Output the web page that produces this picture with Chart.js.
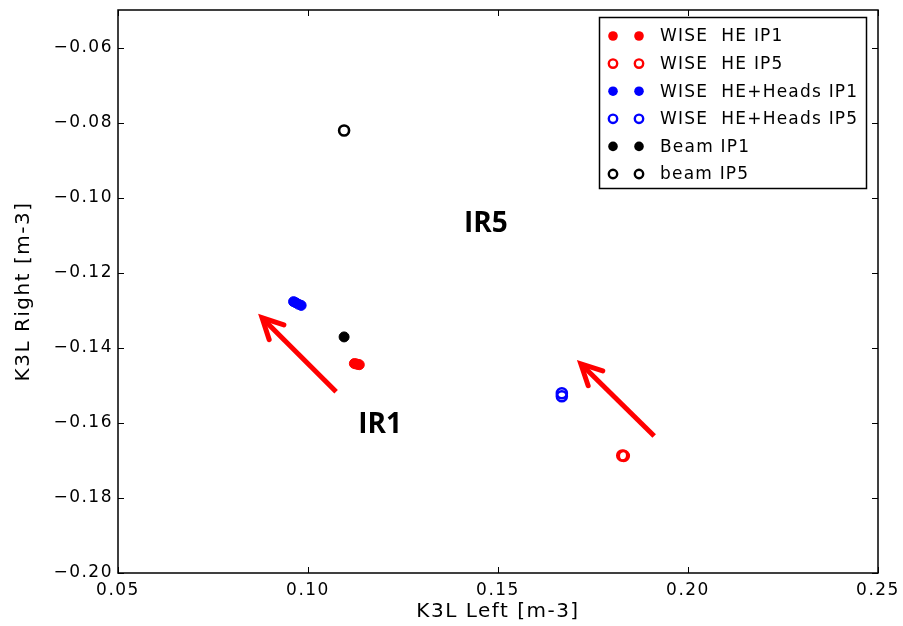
<!DOCTYPE html>
<html>
<head>
<meta charset="utf-8">
<script src="https://cdn.jsdelivr.net/npm/chart.js@4"></script>
<style>
  html, body { margin: 0; padding: 0; background: #fff; }
  #wrap { width: 903px; height: 626px; }
</style>
</head>
<body>
<div id="wrap"><canvas id="myChart"></canvas></div>
<script>
// K3L left / right values per configuration
const heIp1X = [0.1122, 0.1127, 0.1131, 0.1135];
const heIp1Y = [-0.1442, -0.1443, -0.1444, -0.1445];
const heIp5X = [0.1827, 0.1831];
const heIp5Y = [-0.1687, -0.1688];
const headsIp1X = [0.0962, 0.0968, 0.0975, 0.0982];
const headsIp1Y = [-0.1277, -0.1280, -0.1284, -0.1287];
const headsIp5X = [0.1668, 0.1668];
const headsIp5Y = [-0.1521, -0.1529];
const beamIp1X = [0.1095];
const beamIp1Y = [-0.1371];
const beamIp5X = [0.1095];
const beamIp5Y = [-0.0821];

const xTicks = [0.05, 0.10, 0.15, 0.20, 0.25];
const yTicks = [-0.20, -0.18, -0.16, -0.14, -0.12, -0.10, -0.08, -0.06];

// arrows [x0, y0, x1, y1] in data units, and text labels
const arrows = [
  [0.1074, -0.1517, 0.0879, -0.1320],
  [0.1911, -0.1635, 0.1718, -0.1443],
];
const notes = [
  { text: "IR5", x: 0.1468, y: -0.1069 },
  { text: "IR1", x: 0.1190, y: -0.1605 },
];

function pts(xs, ys) {
  return xs.map((x, i) => ({ x: x, y: ys[i] }));
}

function series(label, xs, ys, color, open) {
  return {
    label: label,
    data: pts(xs, ys),
    pointStyle: "circle",
    pointRadius: 5,
    borderWidth: open ? 2.6 : 1,
    borderColor: color,
    backgroundColor: open ? "rgba(0,0,0,0)" : color,
    showLine: false,
  };
}

const data1 = {
  datasets: [
    series("WISE  HE IP1", heIp1X, heIp1Y, "#ff0000", false),
    series("WISE  HE IP5", heIp5X, heIp5Y, "#ff0000", true),
    series("WISE  HE+Heads IP1", headsIp1X, headsIp1Y, "#0000ff", false),
    series("WISE  HE+Heads IP5", headsIp5X, headsIp5Y, "#0000ff", true),
    series("Beam IP1", beamIp1X, beamIp1Y, "#000000", false),
    series("beam IP5", beamIp5X, beamIp5Y, "#000000", true),
  ],
};

const FONT = "'DejaVu Sans', sans-serif";
const SPACING = "1.5px";

function fmt(v) {
  const s = Math.abs(v).toFixed(2);
  return v < 0 ? "\u2212" + s : s;
}

// slightly wider text everywhere
const spacing = {
  id: "spacing",
  beforeUpdate(chart) { chart.ctx.letterSpacing = SPACING; },
  beforeDraw(chart) { chart.ctx.letterSpacing = SPACING; },
};

// inward ticks on all four sides, arrows, labels and legend
const extras = {
  id: "extras",
  afterDatasetsDraw(chart) {
    const c = chart.ctx;
    const a = chart.chartArea;
    const xs = chart.scales.x, ys = chart.scales.y;

    c.save();
    c.strokeStyle = "#000";
    c.lineWidth = 1;
    c.beginPath();
    xTicks.forEach(v => {
      const px = Math.round(xs.getPixelForValue(v)) + 0.5;
      c.moveTo(px, a.bottom); c.lineTo(px, a.bottom - 6);
      c.moveTo(px, a.top); c.lineTo(px, a.top + 6);
    });
    yTicks.forEach(v => {
      const py = Math.round(ys.getPixelForValue(v)) + 0.5;
      c.moveTo(a.left, py); c.lineTo(a.left + 6, py);
      c.moveTo(a.right, py); c.lineTo(a.right - 6, py);
    });
    c.stroke();
    c.lineWidth = 1.5;
    c.strokeRect(a.left, a.top, a.right - a.left, a.bottom - a.top);

    // red arrows
    c.strokeStyle = "#ff0000";
    c.lineWidth = 5;
    arrows.forEach(([x0, y0, x1, y1]) => {
      const p0x = xs.getPixelForValue(x0), p0y = ys.getPixelForValue(y0);
      const p1x = xs.getPixelForValue(x1), p1y = ys.getPixelForValue(y1);
      const ang = Math.atan2(p1y - p0y, p1x - p0x);
      c.lineCap = "butt";
      c.beginPath();
      c.moveTo(p0x, p0y);
      c.lineTo(p1x - 2 * Math.cos(ang), p1y - 2 * Math.sin(ang));
      c.stroke();
      const h = 23, w = 0.47;
      c.lineCap = "round";
      c.lineJoin = "miter";
      c.beginPath();
      c.moveTo(p1x - h * Math.cos(ang - w), p1y - h * Math.sin(ang - w));
      c.lineTo(p1x, p1y);
      c.lineTo(p1x - h * Math.cos(ang + w), p1y - h * Math.sin(ang + w));
      c.stroke();
    });

    // IR labels
    c.letterSpacing = "0px";
    c.fillStyle = "#000";
    c.font = "bold 28px 'Open Sans', sans-serif";
    c.textAlign = "center";
    c.textBaseline = "middle";
    notes.forEach(n => {
      c.fillText(n.text, xs.getPixelForValue(n.x), ys.getPixelForValue(n.y));
    });

    // legend with two markers per entry
    const lx = 599.5, ly = 17.5, lw = 267, lh = 171;
    c.fillStyle = "#fff";
    c.fillRect(lx, ly, lw, lh);
    c.strokeStyle = "#000";
    c.lineWidth = 1.5;
    c.strokeRect(lx, ly, lw, lh);
    c.letterSpacing = "1.2px";
    c.font = "17px " + FONT;
    c.textAlign = "left";
    chart.data.datasets.forEach((ds, i) => {
      const yy = 36 + i * 27.6;
      const open = ds.backgroundColor === "rgba(0,0,0,0)";
      [613, 639].forEach(mx => {
        c.beginPath();
        c.arc(mx, yy, open ? 4.2 : 4.8, 0, Math.PI * 2);
        if (open) {
          c.lineWidth = 2.4;
          c.strokeStyle = ds.borderColor;
          c.stroke();
        } else {
          c.fillStyle = ds.backgroundColor;
          c.fill();
        }
      });
      c.fillStyle = "#000";
      c.fillText(ds.label, 660, yy + 1);
    });
    c.restore();
  },
};

const config1 = {
  type: "scatter",
  data: data1,
  plugins: [spacing, extras],
  options: {
    responsive: true,
    maintainAspectRatio: false,
    animation: false,
    events: [],
    layout: { padding: { top: 10, right: 25, left: 0, bottom: 0 } },
    plugins: {
      legend: { display: false },
      tooltip: { enabled: false },
    },
    scales: {
      x: {
        type: "linear",
        min: 0.05,
        max: 0.25,
        afterBuildTicks: s => { s.ticks = xTicks.map(v => ({ value: v })); },
        afterFit: s => {
          s.height = 53;
          s.paddingLeft = 0;
          s.paddingRight = 0;
        },
        grid: { display: false, drawTicks: false, tickLength: 0 },
        border: { display: false },
        ticks: {
          color: "#000",
          font: { family: FONT, size: 17 },
          padding: 7,
          maxRotation: 0,
          callback: v => fmt(v),
        },
        title: {
          display: true,
          text: "K3L Left [m-3]",
          color: "#000",
          font: { family: FONT, size: 20 },
          padding: { top: 0, bottom: 2 },
        },
      },
      y: {
        type: "linear",
        min: -0.20,
        max: -0.05,
        afterBuildTicks: s => { s.ticks = yTicks.map(v => ({ value: v })); },
        afterFit: s => {
          s.width = 118;
          s.paddingTop = 0;
          s.paddingBottom = 0;
        },
        grid: { display: false, drawTicks: false, tickLength: 0 },
        border: { display: false },
        ticks: {
          color: "#000",
          font: { family: FONT, size: 17 },
          padding: 5,
          callback: v => fmt(v),
        },
        title: {
          display: true,
          text: "K3L Right [m-3]",
          color: "#000",
          font: { family: FONT, size: 20 },
          padding: { top: 12, bottom: 0 },
        },
      },
    },
  },
};

const ctx1 = document.getElementById("myChart").getContext("2d");
const myChart1 = new Chart(ctx1, config1);
</script>
</body>
</html>
